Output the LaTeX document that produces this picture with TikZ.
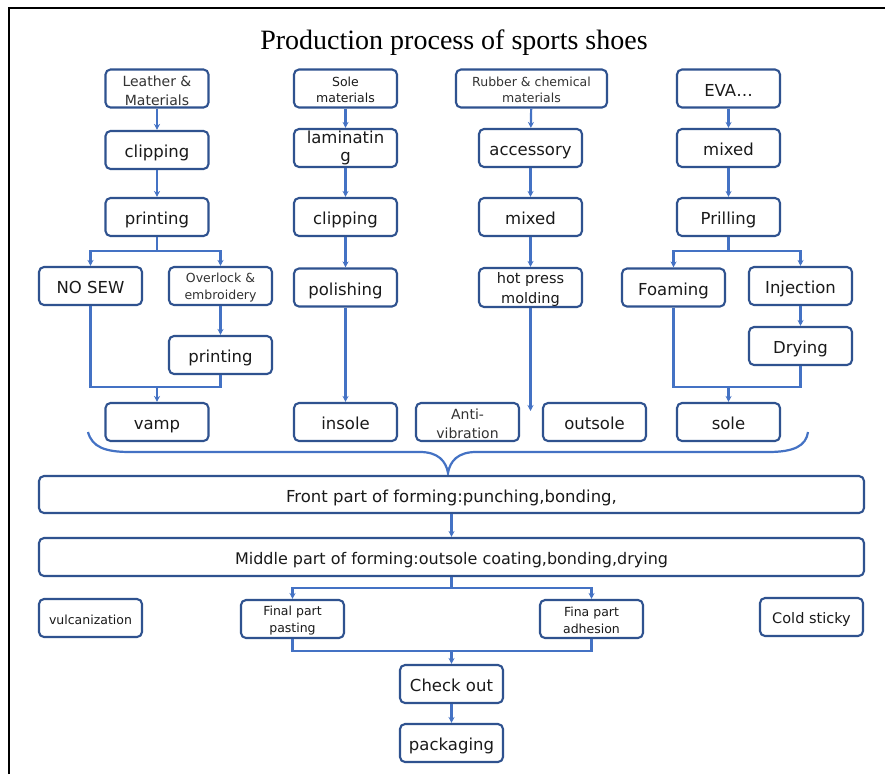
\documentclass[tikz,border=0pt]{standalone}
\usepackage{fontspec}
\setmainfont{DejaVu Sans}
\newfontfamily\titlefont{Liberation Serif}
\usetikzlibrary{arrows.meta}
\definecolor{boxblue}{HTML}{2F528F}
\definecolor{lineblue}{HTML}{4472C4}
\definecolor{txt}{HTML}{1A1A1A}
\definecolor{txtgray}{HTML}{333333}
\newcommand\mystrut[1]{\rule{0pt}{#1}}
\tikzset{
  box/.style={draw=boxblue, line width=2.1pt, rounded corners=5pt, minimum width=103pt,
    minimum height=38pt, inner sep=0pt, align=center, text=txt, fill=white},
  one/.style={text height=15pt, text depth=0pt},
  fsA/.style={font=\fontsize{16.5}{18}\selectfont, one},
  fsB/.style={font=\fontsize{14}{19}\selectfont},
  fsC/.style={font=\fontsize{12.5}{16.5}\selectfont},
  ln/.style={draw=lineblue, line width=2.2pt},
  arr/.style={ln, -{Stealth[length=6pt,width=6pt]}},
}
\begin{document}
\begin{tikzpicture}[x=1pt,y=-1pt]
\useasboundingbox (0,0) rectangle (885,774);
\fill[white] (0,0) rectangle (885,774);
% frame
\draw[black, line width=2.2pt] (9,774) -- (9,8) -- (885,8);
% title
\node[font=\titlefont\fontsize{28}{30}\selectfont, text=black] (title) at (454,43) {Production process of sports shoes};

% column 1
\node[box,fsB,text=txtgray] (leather) at (157,88.5) {\mystrut{15pt}Leather \&\\Materials};
\node[box,fsA] (clip1) at (157,150) {clipping};
\node[box,fsA] (print1) at (157,217) {printing};
\node[box,fsA] (nosew) at (90.5,286) {NO SEW};
\node[box,fsC,text=txtgray] (overlock) at (220.5,286) {\mystrut{13pt}Overlock \&\\embroidery};
\node[box,fsA] (print2) at (220.5,355) {printing};
\node[box,fsA] (vamp) at (157,422) {vamp};
\coordinate (b1) at (157,251);
\coordinate (m1) at (157,387);
\draw[arr] (leather) -- (clip1);
\draw[arr] (clip1) -- (print1);
\draw[ln] (print1.south) -- (b1);
\draw[arr] (b1) -| (nosew.north);
\draw[arr] (b1) -| (overlock.north);
\draw[arr] (overlock) -- (print2);
\draw[ln] (nosew.south) |- (m1) -| (print2.south);
\draw[arr] (m1) -- (vamp.north);

% column 2
\node[box,fsC] (solemat) at (345.5,88.5) {\mystrut{12pt}Sole\\materials};
\node[box,font=\fontsize{16.5}{21}\selectfont] (lam) at (345.5,148) {laminatin\\[-3pt]g};
\node[box,fsA] (clip2) at (345.5,217) {clipping};
\node[box,fsA] (polish) at (345.5,287.5) {polishing};
\node[box,fsA] (insole) at (345.5,422) {insole};
\draw[arr] (solemat) -- (lam);
\draw[arr] (lam) -- (clip2);
\draw[arr] (clip2) -- (polish);
\draw[arr] (polish) -- (insole);

% column 3
\node[box,fsC,text=txtgray,minimum width=151pt] (rubber) at (531.5,88.5) {\mystrut{12.5pt}Rubber \& chemical\\materials};
\node[box,fsA] (access) at (530.5,148) {accessory};
\node[box,fsA] (mixed1) at (530.5,217) {mixed};
\node[box,font=\fontsize{14.5}{20}\selectfont] (hot) at (530.5,287.5) {\mystrut{16pt}hot press\\molding};
\coordinate (hpend) at (530.5,411);
\draw[arr] (rubber) -- (access);
\draw[arr] (access) -- (mixed1);
\draw[arr] (mixed1) -- (hot);
\draw[arr] (hot.south) -- (hpend);
\node[box,font=\fontsize{14}{19}\selectfont,text=txtgray] (anti) at (467.5,422) {\mystrut{14pt}Anti-\\vibration};
\node[box,fsA] (outsole) at (594.5,422) {outsole};

% column 4
\node[box,fsA] (eva) at (728.5,88.5) {EVA…};
\node[box,fsA] (mixed2) at (728.5,148) {mixed};
\node[box,fsA] (prill) at (728.5,217) {Prilling};
\node[box,fsA] (foam) at (673.5,287.5) {Foaming};
\node[box,fsA] (inject) at (800.5,286) {Injection};
\node[box,fsA] (dry) at (800.5,346) {Drying};
\node[box,fsA] (sole) at (728.5,422) {sole};
\coordinate (b4) at (728.5,251);
\coordinate (m4) at (728.5,387);
\draw[arr] (eva) -- (mixed2);
\draw[arr] (mixed2) -- (prill);
\draw[ln] (prill.south) -- (b4);
\draw[arr] (b4) -| (foam.north);
\draw[arr] (b4) -| (inject.north);
\draw[arr] (inject) -- (dry);
\draw[ln] (foam.south) |- (m4) -| (dry.south);
\draw[arr] (m4) -- (sole.north);

% brace
\draw[ln] (88,432) .. controls (92,447) and (105,452) .. (130,452) -- (420,452)
  .. controls (438,452) and (446,461) .. (448,473)
  .. controls (450,461) and (458,452) .. (476,452) -- (768,452)
  .. controls (794,452) and (806,446) .. (808,432);

% lower part
\node[box,font=\fontsize{16.5}{18}\selectfont,one,minimum width=825pt,minimum height=37pt] (front) at (451.5,494.5) {Front part of forming:punching,bonding,};
\node[box,font=\fontsize{16}{18}\selectfont,one,minimum width=825pt] (middle) at (451.5,557) {Middle part of forming:outsole coating,bonding,drying};
\draw[arr] (front) -- (middle);

\node[box,font=\fontsize{12.5}{15}\selectfont,text height=12pt,text depth=0pt] (vulc) at (90.5,618) {vulcanization};
\node[box,font=\fontsize{12.5}{16.5}\selectfont] (paste) at (292.5,619) {\mystrut{12.5pt}Final part\\pasting};
\node[box,font=\fontsize{12.5}{16.5}\selectfont] (adhes) at (591.5,619) {\mystrut{12.5pt}Fina part\\adhesion};
\node[box,font=\fontsize{14.5}{17}\selectfont,text height=13.5pt,text depth=0pt] (cold) at (811.5,617) {Cold sticky};
\coordinate (b5) at (451.5,588);
\coordinate (m5) at (451.5,651);
\draw[ln] (middle.south) -- (b5);
\draw[arr] (b5) -| (paste.north);
\draw[arr] (b5) -| (adhes.north);
\draw[ln] (paste.south) |- (m5) -| (adhes.south);
\node[box,fsA] (check) at (451.5,684) {Check out};
\node[box,fsA] (pack) at (451.5,743) {packaging};
\draw[arr] (m5) -- (check.north);
\draw[arr] (check) -- (pack);
\end{tikzpicture}
\end{document}
